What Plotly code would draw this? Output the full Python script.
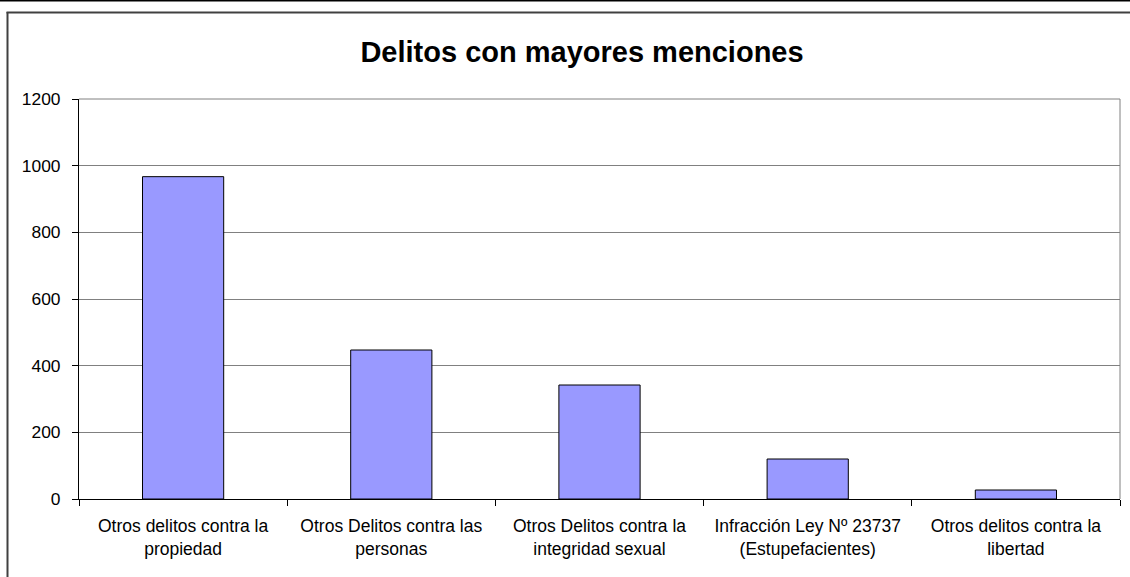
import plotly.graph_objects as go

categories = [
    "Otros delitos contra la<br>propiedad",
    "Otros Delitos contra las<br>personas",
    "Otros Delitos contra la<br>integridad sexual",
    "Infracción Ley Nº 23737<br>(Estupefacientes)",
    "Otros delitos contra la<br>libertad",
]
values = [967, 447, 342, 120, 27]
y_ticks = [0, 200, 400, 600, 800, 1000, 1200]

FONT = "Liberation Sans, Arial, sans-serif"

fig = go.Figure(
    go.Bar(
        x=categories,
        y=values,
        width=0.39,
        marker=dict(color="#9999FF", line=dict(color="#000000", width=1)),
    )
)

L, R, T, B = 79, 10, 99, 78
W, H = 1130, 577
pw = W - L - R
ph = H - T - B


def px_to_paper_x(px):
    return (px - L) / pw


def py_to_paper_y(py):
    return (H - B - py) / ph


fig.update_layout(
    width=W,
    height=H,
    margin=dict(l=L, r=R, t=T, b=B),
    paper_bgcolor="white",
    plot_bgcolor="white",
    showlegend=False,
    font=dict(family=FONT, color="#000000"),
    title=dict(
        text="<b>Delitos con mayores menciones</b>",
        font=dict(family=FONT, size=29, color="#000000"),
        x=px_to_paper_x(582),
        xref="paper",
        xanchor="center",
        y=1 - 52 / H,
        yref="container",
        yanchor="middle",
    ),
    bargap=0.61,
)

fig.update_xaxes(
    type="category",
    showgrid=False,
    showline=True,
    linecolor="#000000",
    linewidth=1,
    ticks="outside",
    tickson="boundaries",
    ticklen=6,
    tickcolor="#000000",
    tickfont=dict(family=FONT, size=17.5, color="#000000"),
    ticklabelstandoff=11,
    fixedrange=True,
)
fig.update_yaxes(
    range=[0, 1200],
    tickvals=y_ticks,
    ticktext=[str(v) for v in y_ticks],
    showgrid=True,
    gridcolor="#808080",
    gridwidth=1,
    showline=True,
    linecolor="#000000",
    linewidth=1,
    ticks="outside",
    ticklen=6,
    tickcolor="#000000",
    tickfont=dict(family=FONT, size=17.4, color="#000000"),
    ticklabelstandoff=8,
    zeroline=False,
    fixedrange=True,
)

shapes = [
    # top border of plot area (gray, at 1200)
    dict(type="line", xref="paper", yref="paper", x0=0, x1=1, y0=1, y1=1,
         line=dict(color="#808080", width=1)),
    # right border of plot area (gray)
    dict(type="line", xref="paper", yref="paper", x0=1, x1=1, y0=0, y1=1,
         line=dict(color="#808080", width=1)),
    # outer chart frame: top edge
    dict(type="line", xref="paper", yref="paper",
         x0=px_to_paper_x(6.5), x1=px_to_paper_x(1135),
         y0=py_to_paper_y(12.5), y1=py_to_paper_y(12.5),
         line=dict(color="#404040", width=2), layer="below"),
    # outer chart frame: left edge
    dict(type="line", xref="paper", yref="paper",
         x0=px_to_paper_x(7.5), x1=px_to_paper_x(7.5),
         y0=py_to_paper_y(12), y1=py_to_paper_y(585),
         line=dict(color="#404040", width=2), layer="below"),
    # top black line of the page
    dict(type="line", xref="paper", yref="paper",
         x0=px_to_paper_x(-10), x1=px_to_paper_x(1140),
         y0=py_to_paper_y(0.5), y1=py_to_paper_y(0.5),
         line=dict(color="#000000", width=2)),
]
fig.update_layout(shapes=shapes)

fig.write_html(
    "out.html",
    config={"displayModeBar": False},
    post_script="document.body.style.margin='0';document.body.style.overflow='hidden';",
)
